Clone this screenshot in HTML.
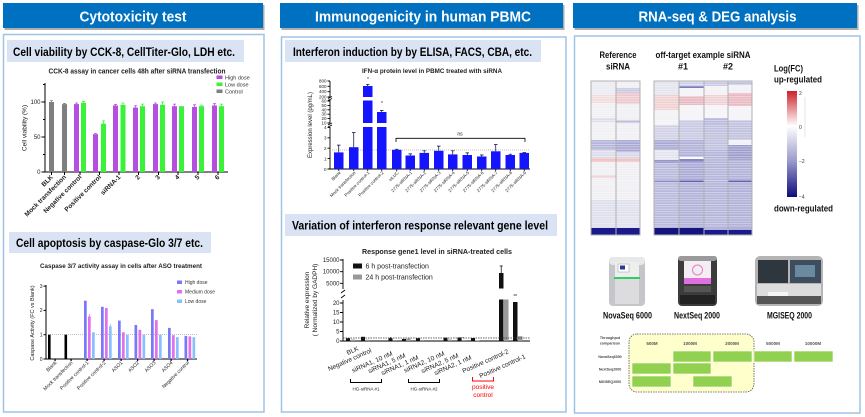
<!DOCTYPE html>
<html><head><meta charset="utf-8"><style>
html,body{margin:0;padding:0;background:#fff;}
svg{display:block;font-family:"Liberation Sans",sans-serif;}
</style></head><body>
<svg width="865" height="417" viewBox="0 0 865 417" xmlns="http://www.w3.org/2000/svg">
<defs>
<pattern id="rows" width="10" height="2.4" patternUnits="userSpaceOnUse"><rect x="0" y="0" width="10" height="0.7" fill="#fff" fill-opacity="0.55"/></pattern>
<linearGradient id="cbar" x1="0" y1="0" x2="0" y2="1">
<stop offset="0" stop-color="#cc2229"/><stop offset="0.33" stop-color="#ffffff"/><stop offset="0.66" stop-color="#9a9acc"/><stop offset="1" stop-color="#0c0c7c"/>
</linearGradient>
</defs>
<rect width="865" height="417" fill="#fff"/>

<!-- Headers -->
<rect x="4.5" y="5" width="260" height="25" fill="#8a8a8a" opacity="0.7"/>
<rect x="3" y="3" width="260" height="25" fill="#0070c0"/>
<text x="133" y="21.5" text-anchor="middle" font-size="15" font-weight="bold" fill="#fff" textLength="107" lengthAdjust="spacingAndGlyphs">Cytotoxicity test</text>
<rect x="281.5" y="5" width="283" height="25" fill="#8a8a8a" opacity="0.7"/>
<rect x="280" y="3" width="283" height="25" fill="#0070c0"/>
<text x="423" y="21.5" text-anchor="middle" font-size="15" font-weight="bold" fill="#fff" textLength="216" lengthAdjust="spacingAndGlyphs">Immunogenicity in human PBMC</text>
<rect x="574.5" y="5" width="284" height="25" fill="#8a8a8a" opacity="0.7"/>
<rect x="573" y="3" width="284" height="25" fill="#0070c0"/>
<text x="717.5" y="21.5" text-anchor="middle" font-size="15" font-weight="bold" fill="#fff" textLength="158" lengthAdjust="spacingAndGlyphs">RNA-seq &amp; DEG analysis</text>

<!-- Panel frames -->
<rect x="3.5" y="34.5" width="260.5" height="377.5" fill="#fff" stroke="#9dc3e6" stroke-width="1.5"/>
<rect x="281.5" y="37" width="284.5" height="375" fill="#fff" stroke="#9dc3e6" stroke-width="1.5"/>
<rect x="574.5" y="36" width="285.5" height="377" fill="#fff" stroke="#9dc3e6" stroke-width="1.5"/>

<!-- Sub-headers -->
<rect x="7" y="40" width="237" height="22" fill="#dae3f3"/>
<text x="13" y="56" font-size="12" font-weight="bold" fill="#000" textLength="222" lengthAdjust="spacingAndGlyphs">Cell viability by CCK-8, CellTiter-Glo, LDH etc.</text>
<rect x="9" y="232" width="202" height="21" fill="#dae3f3"/>
<text x="16" y="247" font-size="12" font-weight="bold" fill="#000" textLength="187" lengthAdjust="spacingAndGlyphs">Cell apoptosis by caspase-Glo 3/7 etc.</text>
<rect x="285" y="40" width="256" height="22" fill="#dae3f3"/>
<text x="293" y="56" font-size="12" font-weight="bold" fill="#000" textLength="239" lengthAdjust="spacingAndGlyphs">Interferon induction by by ELISA, FACS, CBA, etc.</text>
<rect x="285" y="214" width="272" height="22" fill="#dae3f3"/>
<text x="292" y="229.5" font-size="12" font-weight="bold" fill="#000" textLength="256" lengthAdjust="spacingAndGlyphs">Variation of interferon response relevant gene level</text>

<!-- ===== Chart 1: CCK-8 ===== -->
<text x="137" y="73.5" text-anchor="middle" font-size="7" font-weight="bold" fill="#222" textLength="177" lengthAdjust="spacingAndGlyphs">CCK-8 assay in cancer cells 48h after siRNA transfection</text>
<g stroke="#000" stroke-width="1" fill="none">
<line x1="45" y1="83" x2="45" y2="172.5"/>
<line x1="44.5" y1="172" x2="228" y2="172"/>
<line x1="41.5" y1="172" x2="45" y2="172"/><line x1="41.5" y1="137" x2="45" y2="137"/><line x1="41.5" y1="102" x2="45" y2="102"/>
<line x1="43" y1="154.5" x2="45" y2="154.5"/><line x1="43" y1="119.5" x2="45" y2="119.5"/><line x1="43" y1="84.5" x2="45" y2="84.5"/>
</g>
<g font-size="6" fill="#222" text-anchor="end">
<text x="40.5" y="174">0</text><text x="40.5" y="139">50</text><text x="40.5" y="104">100</text>
</g>
<text transform="translate(26.5,128) rotate(-90)" text-anchor="middle" font-size="6.5" fill="#222">Cell viability (%)</text>
<g>
<rect x="49" y="102" width="5" height="70" fill="#7f7f7f"/>
<rect x="62" y="104.1" width="5" height="67.9" fill="#7f7f7f"/>
<rect x="74" y="104.1" width="5" height="67.9" fill="#b44fe0"/>
<rect x="81" y="102.7" width="5" height="69.3" fill="#3af23a"/>
<rect x="93" y="134.2" width="5" height="37.8" fill="#b44fe0"/>
<rect x="101" y="123.7" width="5" height="48.3" fill="#3af23a"/>
<rect x="113" y="105.5" width="5" height="66.5" fill="#b44fe0"/>
<rect x="120.5" y="104.8" width="5" height="67.2" fill="#3af23a"/>
<rect x="133" y="107.6" width="5" height="64.4" fill="#b44fe0"/>
<rect x="140" y="106.2" width="5" height="65.8" fill="#3af23a"/>
<rect x="153" y="104.1" width="5" height="67.9" fill="#b44fe0"/>
<rect x="160" y="104.8" width="5" height="67.2" fill="#3af23a"/>
<rect x="172" y="106.2" width="5" height="65.8" fill="#b44fe0"/>
<rect x="179" y="106.2" width="5" height="65.8" fill="#3af23a"/>
<rect x="192" y="106.9" width="5" height="65.1" fill="#b44fe0"/>
<rect x="199" y="106.2" width="5" height="65.8" fill="#3af23a"/>
<rect x="212" y="105.5" width="5" height="66.5" fill="#b44fe0"/>
<rect x="219" y="106.2" width="5" height="65.8" fill="#3af23a"/>
</g>
<g stroke-width="0.8" fill="none">
<path d="M51.5 102V100.6M50 100.6H53" stroke="#7f7f7f"/>
<path d="M64.5 104V103.4M63 103.4H66" stroke="#7f7f7f"/>
<path d="M76.5 104V103M75 103H78" stroke="#b44fe0"/>
<path d="M83.5 102.7V101.3M82 101.3H85" stroke="#3af23a"/>
<path d="M95.5 134V133.5M94 133.5H97" stroke="#b44fe0"/>
<path d="M103.5 123.7V120.9M102 120.9H105" stroke="#3af23a"/>
<path d="M115.5 105.5V104.4M114 104.4H117" stroke="#b44fe0"/>
<path d="M123 104.8V103M121.5 103H124.5" stroke="#3af23a"/>
<path d="M135.5 107.6V105.8M134 105.8H137" stroke="#b44fe0"/>
<path d="M142.5 106.2V104.1M141 104.1H144" stroke="#3af23a"/>
<path d="M155.5 104.1V103M154 103H157" stroke="#b44fe0"/>
<path d="M162.5 104.8V102M161 102H164" stroke="#3af23a"/>
<path d="M174.5 106.2V104.1M173 104.1H176" stroke="#b44fe0"/>
<path d="M194.5 106.9V104.8M193 104.8H196" stroke="#b44fe0"/>
<path d="M201.5 106.2V105.1M200 105.1H203" stroke="#3af23a"/>
<path d="M214.5 105.5V103.7M213 103.7H216" stroke="#b44fe0"/>
<path d="M221.5 106.2V104.1M220 104.1H223" stroke="#3af23a"/>
</g>
<g stroke="#000" stroke-width="1">
<line x1="51.5" y1="172" x2="51.5" y2="175"/><line x1="64.5" y1="172" x2="64.5" y2="175"/><line x1="80" y1="172" x2="80" y2="175"/><line x1="99.5" y1="172" x2="99.5" y2="175"/><line x1="119" y1="172" x2="119" y2="175"/><line x1="138.5" y1="172" x2="138.5" y2="175"/><line x1="158.5" y1="172" x2="158.5" y2="175"/><line x1="178" y1="172" x2="178" y2="175"/><line x1="198" y1="172" x2="198" y2="175"/><line x1="218" y1="172" x2="218" y2="175"/>
</g>
<g font-size="6.5" font-weight="bold" fill="#222" text-anchor="end">
<text transform="translate(53.5,177.5) rotate(-45)">BLK</text>
<text transform="translate(66.5,177.5) rotate(-45)">Mock transfection</text>
<text transform="translate(82,177.5) rotate(-45)">Negative control</text>
<text transform="translate(101.5,177.5) rotate(-45)">Positive control</text>
<text transform="translate(121,177.5) rotate(-45)">siRNA-1</text>
<text transform="translate(140.5,177.5) rotate(-45)">2</text>
<text transform="translate(160.5,177.5) rotate(-45)">3</text>
<text transform="translate(180,177.5) rotate(-45)">4</text>
<text transform="translate(200,177.5) rotate(-45)">5</text>
<text transform="translate(220,177.5) rotate(-45)">6</text>
</g>
<rect x="216.5" y="75.5" width="6" height="3.5" fill="#b44fe0"/>
<rect x="216.5" y="82.5" width="6" height="3.5" fill="#3af23a"/>
<rect x="216.5" y="89.5" width="6" height="3.5" fill="#7f7f7f"/>
<g font-size="5.5" fill="#333"><text x="225" y="79.5">High dose</text><text x="225" y="86.5">Low dose</text><text x="225" y="93.5">Control</text></g>

<!-- ===== Chart 2: Caspase ===== -->
<text x="121" y="268" text-anchor="middle" font-size="6" font-weight="bold" fill="#222" textLength="162" lengthAdjust="spacingAndGlyphs">Caspase 3/7 activity assay in cells after ASO treatment</text>
<g stroke="#000" stroke-width="1" fill="none">
<line x1="46" y1="285" x2="46" y2="359.5"/>
<line x1="45.5" y1="359" x2="197" y2="359"/>
<line x1="43.5" y1="359" x2="46" y2="359"/><line x1="43.5" y1="334.7" x2="46" y2="334.7"/><line x1="43.5" y1="310.4" x2="46" y2="310.4"/><line x1="43.5" y1="286.1" x2="46" y2="286.1"/>
</g>
<g font-size="5" fill="#222" text-anchor="end"><text x="42.5" y="361">0</text><text x="42.5" y="336.5">1</text><text x="42.5" y="312">2</text><text x="42.5" y="288">3</text></g>
<text transform="translate(34,323) rotate(-90)" text-anchor="middle" font-size="5.5" fill="#222">Caspase Activity (FC vs Blank)</text>
<line x1="46" y1="334.7" x2="197" y2="334.7" stroke="#999" stroke-width="0.7" stroke-dasharray="1,1"/>
<g>
<rect x="48" y="334.7" width="2.6" height="24.3" fill="#000"/>
<rect x="64.5" y="334.7" width="2.6" height="24.3" fill="#000"/>
<g fill="#7878f8"><rect x="84" y="300.7" width="2.7" height="58.3"/><rect x="101" y="306.8" width="2.7" height="52.2"/><rect x="118" y="320.6" width="2.7" height="38.4"/><rect x="134.5" y="325" width="2.7" height="34"/><rect x="151" y="309.2" width="2.7" height="49.8"/><rect x="168" y="327.9" width="2.7" height="31.1"/><rect x="184.5" y="335.9" width="2.7" height="23.1"/></g>
<g fill="#e070f0"><rect x="88" y="316.5" width="2.7" height="42.5"/><rect x="105" y="308" width="2.7" height="51"/><rect x="122" y="332.3" width="2.7" height="26.7"/><rect x="138.5" y="329.8" width="2.7" height="29.2"/><rect x="155" y="320.1" width="2.7" height="38.9"/><rect x="172" y="335.2" width="2.7" height="23.8"/><rect x="188.5" y="336.4" width="2.7" height="22.6"/></g>
<g fill="#88c0ff"><rect x="92" y="332.3" width="2.7" height="26.7"/><rect x="109" y="326.2" width="2.7" height="32.8"/><rect x="126" y="334.7" width="2.7" height="24.3"/><rect x="142.5" y="334.7" width="2.7" height="24.3"/><rect x="159" y="334.7" width="2.7" height="24.3"/><rect x="176" y="337.1" width="2.7" height="21.9"/><rect x="192.5" y="337.1" width="2.7" height="21.9"/></g>
<path d="M89.3 316.5V314" stroke="#e070f0" stroke-width="0.8"/>
<path d="M110.3 326.2V323.8" stroke="#88c0ff" stroke-width="0.8"/>
</g>
<g fill="#000"><rect x="54.5" y="359" width="1.2" height="2"/><rect x="70.5" y="359" width="1.2" height="2"/><rect x="86.5" y="359" width="1.2" height="2"/><rect x="103.5" y="359" width="1.2" height="2"/><rect x="120.5" y="359" width="1.2" height="2"/><rect x="137" y="359" width="1.2" height="2"/><rect x="153.5" y="359" width="1.2" height="2"/><rect x="170.5" y="359" width="1.2" height="2"/><rect x="187" y="359" width="1.2" height="2"/></g>
<g font-size="5" fill="#222" text-anchor="end">
<text transform="translate(57,363) rotate(-45)">Blank</text>
<text transform="translate(73,363) rotate(-45)">Mock transfection</text>
<text transform="translate(89,363) rotate(-45)">Positive control-1</text>
<text transform="translate(106,363) rotate(-45)">Positive control-2</text>
<text transform="translate(123,363) rotate(-45)">ASO1</text>
<text transform="translate(139.5,363) rotate(-45)">ASO2</text>
<text transform="translate(156,363) rotate(-45)">ASO3</text>
<text transform="translate(173,363) rotate(-45)">ASO4</text>
<text transform="translate(189.5,363) rotate(-45)">Negative control</text>
</g>
<rect x="177" y="280.5" width="5" height="3.5" fill="#7878f8"/>
<rect x="177" y="290" width="5" height="3.5" fill="#e070f0"/>
<rect x="177" y="299.5" width="5" height="3.5" fill="#88c0ff"/>
<g font-size="5" fill="#333"><text x="185" y="284">High dose</text><text x="185" y="293.5">Medium dose</text><text x="185" y="303">Low dose</text></g>

<!-- ===== Chart 3: IFN-alpha ===== -->
<text x="432" y="73" text-anchor="middle" font-size="6" font-weight="bold" fill="#222" textLength="140" lengthAdjust="spacingAndGlyphs">IFN-α protein level in PBMC treated with siRNA</text>
<g stroke="#000" stroke-width="0.9" fill="none">
<line x1="330" y1="81" x2="330" y2="97"/>
<line x1="330" y1="100" x2="330" y2="123"/>
<line x1="330" y1="127" x2="330" y2="169.5"/>
<line x1="329.5" y1="169" x2="530" y2="169"/>
<path d="M328 98.5L332 96.5M328 100.5L332 98.5M328 125L332 123M328 127L332 125"/>
<path d="M327.5 81H330M327.5 86.3H330M327.5 91.7H330M327.5 97H330"/>
<path d="M327.5 101H330M327.5 105.4H330M327.5 109.8H330M327.5 114.2H330M327.5 118.6H330M327.5 123H330"/>
<path d="M327.5 127.4H330M327.5 137.8H330M327.5 148.2H330M327.5 158.6H330M327.5 169H330"/>
</g>
<g font-size="4.5" fill="#222" text-anchor="end">
<text x="326.5" y="82.5">800</text><text x="326.5" y="87.8">600</text><text x="326.5" y="93.2">400</text><text x="326.5" y="98.5">200</text>
<text x="326.5" y="102.5">60</text><text x="326.5" y="106.9">50</text><text x="326.5" y="111.3">40</text><text x="326.5" y="115.7">30</text><text x="326.5" y="120.1">20</text><text x="326.5" y="124.5">10</text>
<text x="326.5" y="129.2">4</text><text x="326.5" y="139.6">3</text><text x="326.5" y="150">2</text><text x="326.5" y="160.4">1</text><text x="326.5" y="170.8">0</text>
</g>
<text transform="translate(312,125) rotate(-90)" text-anchor="middle" font-size="6" fill="#222">Expression level (pg/mL)</text>
<line x1="330" y1="150" x2="530" y2="150" stroke="#aaa" stroke-width="0.7" stroke-dasharray="1,1"/>
<g fill="#1414ff">
<rect x="334" y="152.4" width="9.5" height="16.6"/>
<rect x="349" y="147.2" width="9.5" height="21.8"/>
<rect x="363" y="127" width="9.5" height="42"/><rect x="363" y="100.5" width="9.5" height="22.5"/><rect x="363" y="86" width="9.5" height="11"/>
<rect x="377" y="127" width="9.5" height="42"/><rect x="377" y="112" width="9.5" height="11"/>
<rect x="392" y="149.8" width="9.5" height="19.2"/>
<rect x="405.5" y="155.5" width="9.5" height="13.5"/>
<rect x="419.5" y="152.9" width="9.5" height="16.1"/>
<rect x="434" y="150.8" width="9.5" height="18.2"/>
<rect x="448" y="154.4" width="9.5" height="14.6"/>
<rect x="462.5" y="155" width="9.5" height="14"/>
<rect x="477" y="156.5" width="9.5" height="12.5"/>
<rect x="491" y="151.3" width="9.5" height="17.7"/>
<rect x="505.5" y="155" width="9.5" height="14"/>
<rect x="519.5" y="152.9" width="9.5" height="16.1"/>
</g>
<g stroke="#000033" stroke-width="0.7" fill="none">
<path d="M338.75 152.4V145.1M337 145.1H340.5"/>
<path d="M353.75 147.2V132.6M352 132.6H355.5"/>
<path d="M367.75 86V84.3M366 84.3H369.5"/>
<path d="M381.75 112V110.5M380 110.5H383.5"/>
<path d="M396.75 149.8V149.2M395 149.2H398.5"/>
<path d="M410.25 155.5V153.9M408.5 153.9H412"/>
<path d="M424.25 152.9V150.8M422.5 150.8H426"/>
<path d="M438.75 150.8V146.1M437 146.1H440.5"/>
<path d="M452.75 154.4V150.8M451 150.8H454.5"/>
<path d="M467.25 155V152.9M465.5 152.9H469"/>
<path d="M481.75 156.5V155M480 155H483.5"/>
<path d="M495.75 151.3V144.6M494 144.6H497.5"/>
<path d="M510.25 155V154.2M508.5 154.2H512"/>
<path d="M524.25 152.9V152.6M522.5 152.6H526"/>
<path d="M396 142V138.3H525V142" stroke="#000" stroke-width="0.8"/>
</g>
<text x="368" y="81" text-anchor="middle" font-size="5" fill="#222">*</text>
<text x="382" y="105" text-anchor="middle" font-size="5" fill="#222">*</text>
<text x="460" y="135.5" text-anchor="middle" font-size="5" fill="#222">ns</text>
<g stroke="#000" stroke-width="0.8"><path d="M338.75 169V171M353.75 169V171M367.75 169V171M381.75 169V171M396.75 169V171M410.25 169V171M424.25 169V171M438.75 169V171M452.75 169V171M467.25 169V171M481.75 169V171M495.75 169V171M510.25 169V171M524.25 169V171"/></g>
<g font-size="4.4" fill="#222" text-anchor="end">
<text transform="translate(341,173) rotate(-45)">Blank</text>
<text transform="translate(356,173) rotate(-45)">Mock transfection</text>
<text transform="translate(370,173) rotate(-45)">Positive control-1</text>
<text transform="translate(384,173) rotate(-45)">Positive control-2</text>
<text transform="translate(399,173) rotate(-45)">siLUC</text>
<text transform="translate(412.5,173) rotate(-45)">2775-siRNA-1</text>
<text transform="translate(426.5,173) rotate(-45)">2775-siRNA-2</text>
<text transform="translate(441,173) rotate(-45)">2775-siRNA-3</text>
<text transform="translate(455,173) rotate(-45)">2775-siRNA-4</text>
<text transform="translate(469.5,173) rotate(-45)">2775-siRNA-5</text>
<text transform="translate(484,173) rotate(-45)">2775-siRNA-6</text>
<text transform="translate(498,173) rotate(-45)">2775-siRNA-7</text>
<text transform="translate(512.5,173) rotate(-45)">2775-siRNA-8</text>
<text transform="translate(526.5,173) rotate(-45)">2775-siRNA-9</text>
</g>

<!-- ===== Chart 4: Response gene1 ===== -->
<text x="437" y="254" text-anchor="middle" font-size="7" font-weight="bold" fill="#222" textLength="150" lengthAdjust="spacingAndGlyphs">Response gene1 level in siRNA-treated cells</text>
<g stroke="#000" stroke-width="0.9" fill="none">
<line x1="343" y1="259" x2="343" y2="289"/>
<line x1="343" y1="300" x2="343" y2="341.5"/>
<line x1="342.5" y1="341" x2="530" y2="341"/>
<path d="M341 293L345 290M341 298L345 295"/>
<path d="M340 260H343M340 271.7H343M340 283.3H343M340 303H343M340 312.5H343M340 322H343M340 331.5H343M340 341H343"/>
</g>
<g font-size="6" fill="#222" text-anchor="end">
<text x="339.5" y="262">15000</text><text x="339.5" y="273.7">10000</text><text x="339.5" y="285.3">5000</text>
<text x="339.5" y="305">20</text><text x="339.5" y="314.5">15</text><text x="339.5" y="324">10</text><text x="339.5" y="333.5">5</text><text x="339.5" y="343">0</text>
</g>
<text transform="translate(309,300) rotate(-90)" text-anchor="middle" font-size="6.5" fill="#222">Relative expression</text>
<text transform="translate(317,300) rotate(-90)" text-anchor="middle" font-size="6.5" fill="#222">( Normalized by GADPH)</text>
<rect x="353" y="263.5" width="9" height="5" fill="#111"/>
<rect x="353" y="274.5" width="9" height="5" fill="#999"/>
<g font-size="7" fill="#222"><text x="365.5" y="268.5">6 h post-transfection</text><text x="365.5" y="279.5">24 h post-transfection</text></g>
<g fill="#111">
<rect x="346" y="338.2" width="4" height="2.8"/>
<rect x="361" y="336.8" width="4" height="4.2"/>
<rect x="388.5" y="338.2" width="4" height="2.8"/>
<rect x="402" y="338.9" width="4" height="2.1"/>
<rect x="416" y="338.2" width="4" height="2.8"/>
<rect x="443.5" y="337.6" width="4" height="3.4"/>
<rect x="457.5" y="337.4" width="4" height="3.6"/>
<rect x="471" y="338" width="4" height="3"/>
<rect x="499" y="273" width="4.5" height="68"/>
<rect x="513" y="302" width="4.5" height="39"/>
</g>
<g fill="#999">
<rect x="351" y="339.5" width="4" height="1.5"/>
<rect x="365.5" y="339.7" width="4" height="1.3"/>
<rect x="393" y="340" width="4" height="1"/>
<rect x="406.5" y="338.5" width="4" height="2.5"/>
<rect x="420" y="339.9" width="4" height="1.1"/>
<rect x="448" y="339.5" width="4" height="1.5"/>
<rect x="462" y="339.9" width="4" height="1.1"/>
<rect x="475.5" y="340.4" width="4" height="0.6"/>
<rect x="504" y="290" width="4.5" height="51"/>
<rect x="518" y="336.2" width="4.5" height="4.8"/>
</g>
<rect x="497" y="288.5" width="30" height="11" fill="#fff"/>
<g stroke="#000" stroke-width="0.7" fill="none">
<path d="M501.2 273V266M499.7 266H502.7"/>
<path d="M513.5 295H517"/>
<path d="M390.5 338.2V337M463 338V337"/>
</g>
<line x1="343" y1="338" x2="530" y2="338" stroke="#333" stroke-width="0.7" stroke-dasharray="1.5,1"/>
<g font-size="6.5" fill="#222" text-anchor="end">
<text transform="translate(359,350) rotate(-24)">BLK</text>
<text transform="translate(372,352) rotate(-24)">Negative control</text>
<text transform="translate(393,355) rotate(-24)">siRNA1, 10 nM</text>
<text transform="translate(406,357) rotate(-24)">siRNA1, 5 nM</text>
<text transform="translate(419,359) rotate(-24)">siRNA1, 1 nM</text>
<text transform="translate(445,355) rotate(-24)">siRNA2, 10 nM</text>
<text transform="translate(459,357) rotate(-24)">siRNA2, 5 nM</text>
<text transform="translate(472,359) rotate(-24)">siRNA2, 1 nM</text>
<text transform="translate(509,353) rotate(-24)">Positive control-2</text>
<text transform="translate(526,358) rotate(-24)">Positive control-1</text>
</g>
<g stroke="#000" stroke-width="1" fill="none">
<path d="M350.5 379V382.5H381.5V379"/>
<path d="M408.5 379V382.5H439.5V379"/>
</g>
<path d="M472.5 377V381H493.5V377" stroke="#ff0000" stroke-width="1" fill="none"/>
<g font-size="4.5" fill="#222" text-anchor="middle"><text x="366" y="390.5">HG-siRNA #1</text><text x="424" y="390.5">HG-siRNA #2</text></g>
<g font-size="6.5" fill="#ff0000" text-anchor="middle"><text x="483" y="389">positive</text><text x="483" y="397">control</text></g>

<!-- ===== Heatmap ===== -->
<g font-size="9" font-weight="bold" fill="#111" text-anchor="middle">
<text x="618" y="58" textLength="37" lengthAdjust="spacingAndGlyphs">Reference</text>
<text x="618" y="69.5" textLength="24" lengthAdjust="spacingAndGlyphs">siRNA</text>
<text x="703" y="58" textLength="95" lengthAdjust="spacingAndGlyphs">off-target example siRNA</text>
<text x="683" y="69.5">#1</text>
<text x="728" y="69.5">#2</text>
</g>
<!-- col A -->
<rect x="591" y="81" width="25" height="154" fill="#f0f0f4"/>
<rect x="591" y="81" width="25" height="14" fill="#eaeaf2"/>
<rect x="591" y="95" width="25" height="8" fill="#f2dcdc"/>
<rect x="591" y="118" width="25" height="4" fill="#dcdcec"/>
<rect x="591" y="140" width="25" height="10" fill="#b4b4d8"/>
<rect x="591" y="150" width="25" height="8" fill="#dcdcec"/>
<rect x="591" y="158" width="25" height="4" fill="#f0c0c0"/>
<rect x="591" y="175" width="25" height="3" fill="#f0d4d8"/>
<rect x="591" y="200" width="25" height="28" fill="#dedeee"/>
<!-- col B -->
<rect x="616" y="81" width="24" height="154" fill="#f0eff3"/>
<rect x="616" y="88" width="24" height="5" fill="#c8c8e2"/>
<rect x="616" y="93" width="24" height="11" fill="#eec8cc"/>
<rect x="616" y="120" width="24" height="3" fill="#c0c0dc"/>
<rect x="616" y="140" width="24" height="12" fill="#a8a8d4"/>
<rect x="616" y="152" width="24" height="6" fill="#d8d8ec"/>
<rect x="616" y="158" width="24" height="4" fill="#f0c0c0"/>
<rect x="616" y="200" width="24" height="28" fill="#e0e0ee"/>
<!-- col C -->
<rect x="654" y="81" width="25" height="154" fill="#b8b8dc"/>
<rect x="654" y="81" width="25" height="14" fill="#e4e4f0"/>
<rect x="654" y="95" width="25" height="15" fill="#f0d0d0"/>
<rect x="654" y="110" width="25" height="15" fill="#f2f2f6"/>
<rect x="654" y="125" width="25" height="15" fill="#d0d0e6"/>
<rect x="654" y="140" width="25" height="10" fill="#a8a8d4"/>
<rect x="654" y="150" width="25" height="10" fill="#e4e4f0"/>
<rect x="654" y="160" width="25" height="2.5" fill="#8888c4"/>
<rect x="654" y="180" width="25" height="2" fill="#8c8cc6"/>
<!-- col D -->
<rect x="679" y="81" width="25" height="154" fill="#b0b0d8"/>
<rect x="679" y="81" width="25" height="5" fill="#d0d0e8"/>
<rect x="679" y="86" width="25" height="2" fill="#7070b8"/>
<rect x="679" y="88" width="25" height="8" fill="#f4f4f8"/>
<rect x="679" y="96" width="25" height="9" fill="#e8b8c0"/>
<rect x="679" y="105" width="25" height="15" fill="#f4f4f8"/>
<rect x="679" y="120" width="25" height="20" fill="#c8c8e2"/>
<rect x="679" y="157" width="25" height="2" fill="#f8f8ff"/>
<rect x="679" y="159" width="25" height="3" fill="#7878c0"/>
<rect x="679" y="162" width="25" height="18" fill="#a8a8d4"/>
<rect x="679" y="180" width="25" height="2" fill="#6060b0"/>
<!-- col E -->
<rect x="704" y="81" width="24" height="154" fill="#b4b4da"/>
<rect x="704" y="81" width="24" height="5" fill="#c8c8e4"/>
<rect x="704" y="86" width="24" height="9" fill="#f2f2f6"/>
<rect x="704" y="95" width="24" height="10" fill="#f0d0d4"/>
<rect x="704" y="105" width="24" height="13" fill="#f4f4f8"/>
<rect x="704" y="118" width="24" height="7" fill="#b8b8dc"/>
<rect x="704" y="125" width="24" height="25" fill="#c0c0de"/>
<!-- col F -->
<rect x="728" y="81" width="24" height="154" fill="#b0b0d8"/>
<rect x="728" y="81" width="24" height="4" fill="#c0c0e0"/>
<rect x="728" y="85" width="24" height="8" fill="#f0f0f6"/>
<rect x="728" y="93" width="24" height="13" fill="#eab8c0"/>
<rect x="728" y="106" width="24" height="14" fill="#f4f4f8"/>
<rect x="728" y="120" width="24" height="20" fill="#c0c0de"/>
<rect x="728" y="140" width="24" height="5" fill="#f0f0f6"/>
<rect x="728" y="145" width="24" height="15" fill="#9c9ccc"/>
<rect x="728" y="180" width="24" height="2" fill="#6060b0"/>
<!-- row lines overlay -->
<rect x="591" y="81" width="49" height="147" fill="url(#rows)"/>
<rect x="654" y="81" width="98" height="147" fill="url(#rows)"/>
<!-- navy bottoms -->
<rect x="591" y="228" width="49" height="7" fill="#1a1a8a"/>
<rect x="654" y="228" width="50" height="7" fill="#14147e"/>
<rect x="704" y="230" width="48" height="5" fill="#1a1a8a"/>
<g stroke="#b0b0b0" stroke-width="1" fill="none">
<rect x="591" y="81" width="49" height="154"/>
<line x1="616" y1="81" x2="616" y2="235"/>
<rect x="654" y="81" width="98" height="154"/>
<line x1="679" y1="81" x2="679" y2="235"/><line x1="704" y1="81" x2="704" y2="235"/><line x1="728" y1="81" x2="728" y2="235"/>
</g>
<!-- colorbar -->
<text x="774" y="71.5" font-size="9" font-weight="bold" fill="#111" textLength="29" lengthAdjust="spacingAndGlyphs">Log(FC)</text>
<text x="774" y="82.5" font-size="9" font-weight="bold" fill="#111" textLength="48" lengthAdjust="spacingAndGlyphs">up-regulated</text>
<text x="774" y="211.5" font-size="9" font-weight="bold" fill="#111" textLength="59" lengthAdjust="spacingAndGlyphs">down-regulated</text>
<rect x="787" y="91" width="10" height="106" fill="url(#cbar)"/>
<line x1="805" y1="97" x2="805" y2="137" stroke="#ddd" stroke-width="0.8"/>
<g font-size="5" fill="#333"><text x="799" y="95">2</text><text x="799" y="129">0</text><text x="799" y="163">−2</text><text x="799" y="198.5">−4</text></g>

<!-- ===== Instruments ===== -->
<rect x="609" y="257" width="36" height="49" rx="4" fill="#c4c6ca"/>
<rect x="609" y="257" width="36" height="8" rx="4" fill="#e6e8ea"/>
<rect x="615" y="262" width="24" height="42" fill="#eeeeef"/>
<rect x="618" y="264" width="11" height="8" fill="#fff" stroke="#999" stroke-width="0.5"/>
<rect x="620" y="265.5" width="5" height="4" fill="#2a3a90"/>
<rect x="614" y="277" width="26" height="2" fill="#30d060"/>
<rect x="615" y="279" width="24" height="25" fill="#dcdcde"/>
<rect x="678" y="256" width="39" height="50" rx="4" fill="#3c3c3c"/>
<rect x="678" y="256" width="39" height="5" rx="3" fill="#9a9a9a"/>
<rect x="684" y="261" width="27" height="18" fill="#f4eef4"/>
<circle cx="697.5" cy="270" r="5" fill="none" stroke="#e080c0" stroke-width="1"/>
<rect x="684" y="278" width="27" height="6" fill="#e070e0"/>
<rect x="684" y="286" width="27" height="6" fill="#555"/>
<rect x="680" y="295" width="35" height="9" fill="#222"/>
<rect x="755" y="256" width="68" height="50" rx="5" fill="#b4b4b4"/>
<rect x="758" y="260" width="30" height="23" fill="#2e363e"/>
<rect x="790" y="260" width="31" height="23" fill="#3e4e5e"/>
<rect x="795" y="265" width="20" height="12" fill="#6a8aa0"/>
<rect x="757" y="284" width="64" height="12" fill="#dcdcdc"/>
<rect x="757" y="296" width="64" height="8" fill="#555"/>
<rect x="768" y="292" width="20" height="4" fill="#f4f4f4"/>
<g font-size="9" font-weight="bold" fill="#111" text-anchor="middle">
<text x="627.5" y="318.5" textLength="49" lengthAdjust="spacingAndGlyphs">NovaSeq 6000</text>
<text x="697" y="318.5" textLength="46" lengthAdjust="spacingAndGlyphs">NextSeq 2000</text>
<text x="789.5" y="318.5" textLength="45" lengthAdjust="spacingAndGlyphs">MGISEQ 2000</text>
</g>

<!-- Throughput table -->
<rect x="629" y="334" width="125" height="58" rx="8" fill="#ffffcc" stroke="#555" stroke-width="0.8" stroke-dasharray="1.5,1"/>
<g fill="#92d050" stroke="#fff" stroke-width="0.6">
<rect x="673" y="351" width="38" height="11"/><rect x="713" y="351" width="39" height="11"/><rect x="754" y="351" width="38" height="11"/><rect x="794" y="351" width="39" height="11"/>
<rect x="632" y="363" width="39" height="11"/><rect x="673" y="363" width="38" height="11"/>
<rect x="632" y="376" width="39" height="11"/><rect x="693" y="376" width="39" height="11"/>
</g>
<g font-size="4.5" font-weight="bold" fill="#555" text-anchor="middle">
<text x="652" y="345">500M</text><text x="690" y="345">1000M</text><text x="732" y="345">2000M</text><text x="773" y="345">5000M</text><text x="813" y="345">10000M</text>
</g>
<g font-size="3.6" font-weight="bold" fill="#444" text-anchor="middle">
<text x="610" y="339">Throughput</text><text x="610" y="344.5">comparison</text>
<text x="610" y="358">NovaSeq6000</text><text x="610" y="370.5">NextSeq2000</text><text x="610" y="383">MGISEQ2000</text>
</g>
</svg>
</body></html>
